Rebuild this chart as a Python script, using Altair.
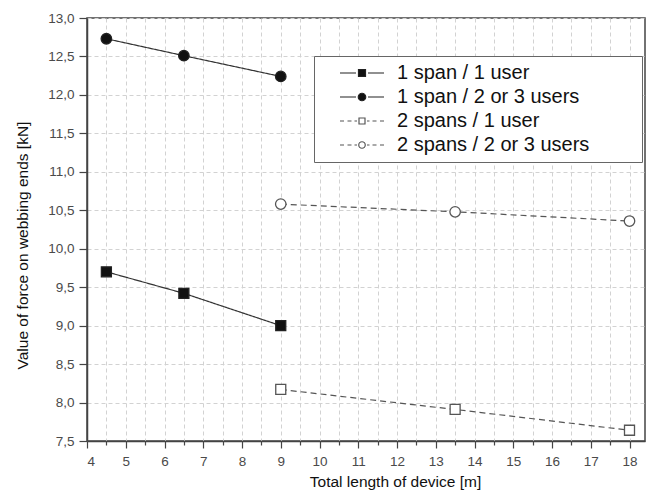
import altair as alt
import pandas as pd

SERIES = ["1 span / 1 user", "1 span / 2 or 3 users", "2 spans / 1 user", "2 spans / 2 or 3 users"]
X_1SPAN = [4.5, 6.5, 9.0]
X_2SPANS = [9.0, 13.5, 18.0]
Y_1SPAN_1USER = [9.70, 9.42, 9.00]
Y_1SPAN_23USERS = [12.73, 12.51, 12.24]
Y_2SPANS_1USER = [8.17, 7.91, 7.64]
Y_2SPANS_23USERS = [10.58, 10.48, 10.36]
X_TICKS = [4, 4.5, 5, 5.5, 6, 6.5, 7, 7.5, 8, 8.5, 9, 9.5, 10, 10.5, 11, 11.5,
           12, 12.5, 13, 13.5, 14, 14.5, 15, 15.5, 16, 16.5, 17, 17.5, 18]
Y_TICKS = [7.5, 8.0, 8.5, 9.0, 9.5, 10.0, 10.5, 11.0, 11.5, 12.0, 12.5, 13.0]
X_DOMAIN = [4, 18.4]
Y_DOMAIN = [7.5, 13.0]
X_TITLE = "Total length of device [m]"
Y_TITLE = "Value of force on webbing ends [kN]"

MARKER_SHAPES = ["square", "circle", "square", "circle"]
MARKER_FILLS = ["#111111", "#111111", "white", "white"]
MARKER_STROKES = ["#222222", "#222222", "#555555", "#555555"]
MARKER_SIZES = [100, 110, 100, 110]
LINE_COLORS = ["#333333", "#333333", "#555555", "#555555"]
LINE_DASHES = [[1, 0], [1, 0], [6, 4], [6, 4]]

rows = []
for name, xs, ys in [
    (SERIES[0], X_1SPAN, Y_1SPAN_1USER),
    (SERIES[1], X_1SPAN, Y_1SPAN_23USERS),
    (SERIES[2], X_2SPANS, Y_2SPANS_1USER),
    (SERIES[3], X_2SPANS, Y_2SPANS_23USERS),
]:
    for xv, yv in zip(xs, ys):
        rows.append({"length": xv, "force": yv, "series": name})
df = pd.DataFrame(rows)

FONT = "Liberation Sans"
PAD = "\u2800" * 3

x_enc = alt.X(
    "length:Q",
    scale=alt.Scale(domain=X_DOMAIN, nice=False, zero=False),
    axis=alt.Axis(
        values=X_TICKS,
        labelExpr="datum.value % 1 === 0 ? format(datum.value, 'd') : ''",
        tickSize={"condition": {"test": "datum.value % 1 === 0", "value": 7}, "value": 4},
        title=X_TITLE,
        titleX=308, titleY=45, titleAlign="center", titleBaseline="alphabetic",
        labelPadding=6,
    ),
)
y_enc = alt.Y(
    "force:Q",
    scale=alt.Scale(domain=Y_DOMAIN, nice=False, zero=False),
    axis=alt.Axis(
        values=Y_TICKS,
        labelExpr="replace(format(datum.value, '.1f'), '.', ',')",
        tickSize=8,
        labelPadding=5,
        title=Y_TITLE,
        titleX=-65, titleY=227, titleAlign="center", titleBaseline="middle", titleAngle=270,
    ),
)

line_layers = []
point_layers = []
for s, lc, ld, shp, fl, st, sz in zip(SERIES, LINE_COLORS, LINE_DASHES, MARKER_SHAPES,
                                      MARKER_FILLS, MARKER_STROKES, MARKER_SIZES):
    sub = alt.Chart(df).transform_filter(alt.datum.series == s)
    line_layers.append(
        sub.mark_line(stroke=lc, strokeDash=ld, strokeWidth=1.2).encode(x=x_enc, y=y_enc)
    )
    point_layers.append(
        sub.mark_point(shape=shp, filled=True, fill=fl, stroke=st, strokeWidth=1.3,
                       size=sz, opacity=1).encode(x=x_enc, y=y_enc)
    )

DASH = "M-4.4,0H-3.6M-2.9,0H-2.1M-1.5,0H-1.0M1.0,0H1.5M2.1,0H2.9M3.6,0H4.4"
SOLID = "M-4.4,0H-1.2M1.2,0H4.4"
SQ = "M-0.7,-0.7H0.7V0.7H-0.7Z"
CI = "M-0.75,0A0.75,0.75,0,1,0,0.75,0A0.75,0.75,0,1,0,-0.75,0Z"
SQ_O = "M-0.6,-0.6H0.6V0.6H-0.6Z"
CI_O = "M-0.65,0A0.65,0.65,0,1,0,0.65,0A0.65,0.65,0,1,0,-0.65,0Z"
LEGEND_SHAPES = [SOLID + SQ, SOLID + CI, DASH + SQ_O, DASH + CI_O]

leg = alt.Legend(
    title=None, orient="none", legendX=227, legendY=38,
    padding=7, strokeColor="#666666", fillColor="white",
    symbolSize=100, symbolStrokeWidth=1.2, symbolOpacity=1,
    symbolOffset=31, labelOffset=25,
    labelFontSize=20, labelFont=FONT, labelColor="#111111",
    labelLimit=500, rowPadding=4,
    labelExpr="datum.label + '" + PAD + "'",
)

legend_layer = alt.Chart(df).mark_point(
    filled=True, strokeWidth=1.2, opacity=0
).encode(
    x=x_enc, y=y_enc,
    shape=alt.Shape("series:N", scale=alt.Scale(domain=SERIES, range=LEGEND_SHAPES), legend=leg),
    fill=alt.Fill("series:N", scale=alt.Scale(domain=SERIES, range=MARKER_FILLS), legend=leg),
    stroke=alt.Stroke("series:N", scale=alt.Scale(domain=SERIES, range=MARKER_STROKES), legend=leg),
)

chart = alt.layer(*line_layers, *point_layers, legend_layer).properties(
    width=558, height=423,
    autosize=alt.AutoSizeParams(type="none"),
    padding={"left": 79, "top": 10, "right": 3, "bottom": 49},
).configure_view(
    stroke="#444444", strokeWidth=1.5
).configure_axis(
    labelFont=FONT, titleFont=FONT, labelFontSize=13.5, titleFontSize=15.5,
    labelColor="#4a4a4a", titleColor="#111111", titleFontWeight="normal",
    domainColor="#444444", domainWidth=1.5, tickColor="#444444", tickWidth=1.2,
    grid=True, gridColor="#d2d2d2", gridDash=[4, 3], gridWidth=1,
)

chart.save("out.html", embed_options={"renderer": "svg", "actions": False})
